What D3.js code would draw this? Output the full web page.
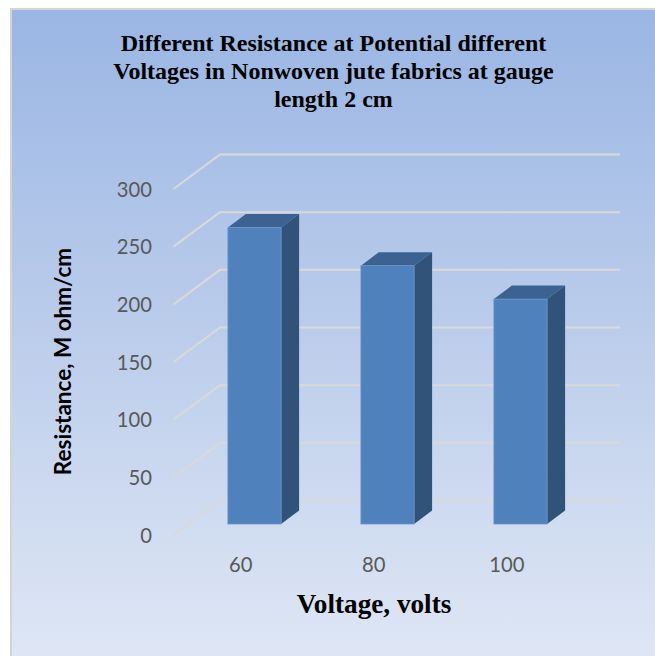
<!DOCTYPE html>
<html><head><meta charset="utf-8">
<script src="https://cdn.jsdelivr.net/npm/d3@7/dist/d3.min.js"></script>
<style>html,body{margin:0;padding:0;background:#fff}svg{display:block}</style>
</head><body><svg id="c" width="655" height="656"></svg>
<script>
const categories = ["60","80","100"];
const resistance = [257,224,195];
const yTicks = [0,50,100,150,200,250,300];
const titleLines = ["Different Resistance at Potential different","Voltages in Nonwoven jute fabrics at gauge","length 2 cm"];
const xTitle = "Voltage, volts";
const yTitle = "Resistance, M ohm/cm";

const svg = d3.select("#c");
const defs = svg.append("defs");
const g = defs.append("linearGradient").attr("id","bg").attr("x1",0).attr("y1",0).attr("x2",0).attr("y2",1);
g.append("stop").attr("offset","0%").attr("stop-color","#9ab6e4");
g.append("stop").attr("offset","50%").attr("stop-color","#bccdeb");
g.append("stop").attr("offset","100%").attr("stop-color","#dfe7f5");
svg.append("rect").attr("x",11).attr("y",9).attr("width",650).attr("height",655)
  .attr("fill","url(#bg)").attr("stroke","#d4d4d4").attr("stroke-width",2);

const y = d3.scaleLinear().domain([0,300]).range([535,189]);
const x = d3.scaleBand().domain(categories).range([188,587]).paddingInner(0.6).paddingOuter(0.3);
const dx = 46.5, dy = -34.5, bx = 18, by = -13.5, floorFront = 524;

const grid = svg.append("g").attr("fill","none").attr("stroke","#d9d9d9").attr("stroke-width",2);
yTicks.forEach(t=>{
  grid.append("path").attr("d",d3.line()([[173.5,y(t)],[173.5+dx,y(t)+dy],[620,y(t)+dy]]));
});

const lab = svg.append("g").attr("font-family","Lato,sans-serif").attr("fill","#595959").attr("font-size",20.2);
yTicks.forEach(t=>{
  lab.append("text").attr("x",152).attr("y",y(t)+7.5).attr("text-anchor","end").text(t);
});
categories.forEach(c=>{
  lab.append("text").attr("x",x(c)+x.bandwidth()/2-13.7).attr("y",572).attr("text-anchor","middle").text(c);
});

const bars = svg.append("g");
const h = v => y(0)-y(v);
categories.forEach((c,i)=>{
  const x0=x(c), w=x.bandwidth(), top=floorFront-h(resistance[i]);
  const poly=(pts,fill)=>bars.append("polygon").attr("points",pts.join(" ")).attr("fill",fill);
  poly([[x0,top],[x0+bx,top+by],[x0+w+bx,top+by],[x0+w,top]],"#3c6292");
  poly([[x0+w,top],[x0+w+bx,top+by],[x0+w+bx,floorFront+by],[x0+w,floorFront]],"#315279");
  bars.append("rect").attr("x",x0).attr("y",top).attr("width",w).attr("height",floorFront-top)
    .attr("fill","#4f81bd").attr("stroke","#6f97c9").attr("stroke-width",0.8);
});

const tt = svg.append("g").attr("font-family","'Liberation Serif',serif").attr("font-weight","bold").attr("fill","#000").attr("text-anchor","middle");
titleLines.forEach((l,i)=>tt.append("text").attr("x",333.5).attr("y",51+i*27.8).attr("font-size",24).text(l));
svg.append("text").attr("x",374).attr("y",612.7).attr("text-anchor","middle").attr("font-family","'Liberation Serif',serif").attr("font-weight","bold").attr("font-size",27.2).text(xTitle);
svg.append("text").attr("transform","translate(70.7,361.5) rotate(-90)").attr("text-anchor","middle").attr("font-family","Lato,sans-serif").attr("font-weight","bold").attr("font-size",22.5).text(yTitle);
</script></body></html>
